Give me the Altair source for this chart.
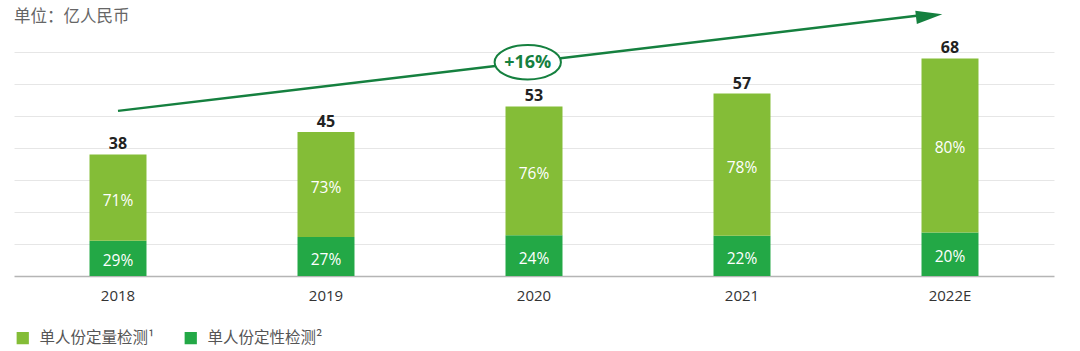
import altair as alt
import pandas as pd

title_text = "单位：亿人民币"
years = ["2018", "2019", "2020", "2021", "2022E"]
totals = [38, 45, 53, 57, 68]
quant_share = [71, 73, 76, 78, 80]
qual_share = [29, 27, 24, 22, 20]
series = ["单人份定量检测¹", "单人份定性检测²"]
colors = ["#84bd37", "#23a846"]
cagr_label = "+16%"

# annotation arrow (x in bar-index units, y in data units)
arrow_x = [0.0, 3.86]
arrow_y = [51.6, 81.5]
head_x = [3.9]
head_y = [81.3]
badge_x = [1.97]
badge_y = [66.8]

rows = []
for i, y in enumerate(years):
    rows.append({"year": y, "series": series[1], "order": 0,
                 "value": totals[i] * qual_share[i] / 100, "label": f"{qual_share[i]}%"})
    rows.append({"year": y, "series": series[0], "order": 1,
                 "value": totals[i] * quant_share[i] / 100, "label": f"{quant_share[i]}%"})
df = pd.DataFrame(rows)
tot_df = pd.DataFrame({"year": years, "total": totals})
arrow_df = pd.DataFrame({"x": arrow_x, "y": arrow_y})
head_df = pd.DataFrame({"x": head_x, "y": head_y})
badge_df = pd.DataFrame({"x": badge_x, "y": badge_y, "t": [cagr_label]})
title_df = pd.DataFrame({"t": [title_text]})

yscale = alt.Scale(domain=[0, 70], nice=False, zero=True)
xscale = alt.Scale(paddingInner=0.726, paddingOuter=0.363)
xaxis = alt.Axis(title=None, labelAngle=0, labelFontSize=15, labelColor="#333333",
                 labelFont="Open Sans", ticks=False, labelPadding=12,
                 domainColor="#b5b5b5", domainWidth=1.5, grid=False)
xband = alt.X("year:N", sort=years, scale=xscale, axis=xaxis)
yaxis = alt.Axis(title=None, labels=False, ticks=False, domain=False, grid=True,
                 values=[10, 20, 30, 40, 50, 60, 70], gridColor="#e6e6e6", gridWidth=1)

bars = alt.Chart(df).mark_bar().encode(
    x=xband,
    y=alt.Y("value:Q", stack="zero", scale=yscale, axis=yaxis),
    color=alt.Color("series:N", scale=alt.Scale(domain=series, range=colors),
                    legend=alt.Legend(title=None, orient="none", direction="horizontal",
                                      legendX=1, legendY=278, symbolType="square",
                                      symbolSize=150, symbolStrokeWidth=0,
                                      labelFontSize=15.5, labelColor="#555555",
                                      labelFont="Noto Sans CJK SC", labelOffset=9,
                                      columnPadding=28, padding=0)),
    order=alt.Order("order:Q"),
)

pct = alt.Chart(df).transform_stack(
    stack="value", groupby=["year"], as_=["v0", "v1"], sort=[alt.SortField("order")]
).transform_calculate(mid="(datum.v0 + datum.v1) / 2").mark_text(
    color="white", fontSize=15.5, font="Open Sans", baseline="middle", dy=3
).encode(
    x=xband,
    y=alt.Y("mid:Q", scale=yscale, axis=yaxis),
    text="label:N",
)

tot = alt.Chart(tot_df).mark_text(
    fontSize=16, fontWeight="bold", font="Open Sans", color="#222222", baseline="bottom", dy=-2
).encode(
    x=xband,
    y=alt.Y("total:Q", scale=yscale, axis=yaxis),
    text="total:Q",
)

xq = alt.Scale(domain=[-0.5, 4.5], nice=False, zero=False)
arrow_color = "#15803f"
line = alt.Chart(arrow_df).mark_line(color=arrow_color, strokeWidth=2.5).encode(
    x=alt.X("x:Q", scale=xq, axis=None),
    y=alt.Y("y:Q", scale=yscale, axis=yaxis),
)
head = alt.Chart(head_df).mark_point(
    shape="M-1,-0.5L1,0L-1,0.5Z", size=700, filled=True, color=arrow_color,
    opacity=1, angle=353.2
).encode(
    x=alt.X("x:Q", scale=xq, axis=None),
    y=alt.Y("y:Q", scale=yscale, axis=yaxis),
)
badge = alt.Chart(badge_df).mark_point(
    shape="M-1,0A1,0.52,0,1,1,1,0A1,0.52,0,1,1,-1,0Z", size=4400, filled=False,
    fill="white", fillOpacity=1, stroke=arrow_color, strokeWidth=2, opacity=1
).encode(
    x=alt.X("x:Q", scale=xq, axis=None),
    y=alt.Y("y:Q", scale=yscale, axis=yaxis),
)
badge_text = alt.Chart(badge_df).mark_text(
    fontSize=18, fontWeight="bold", font="Open Sans", color=arrow_color, baseline="middle", dy=1
).encode(
    x=alt.X("x:Q", scale=xq, axis=None),
    y=alt.Y("y:Q", scale=yscale, axis=yaxis),
    text="t:N",
)
title_mark = alt.Chart(title_df).mark_text(
    fontSize=16.5, font="Noto Sans CJK SC", color="#666666", align="left", baseline="middle"
).encode(
    x=alt.value(0), y=alt.value(-35), text="t:N"
)

chart = alt.layer(
    alt.layer(bars, pct, tot),
    alt.layer(line, head, badge, badge_text, title_mark),
).resolve_scale(
    x="independent"
).properties(
    width=1040, height=224,
    background="white",
    autosize=alt.AutoSizeParams(type="none"),
    padding={"left": 14, "top": 52, "right": 26, "bottom": 75},
).configure_view(stroke=None)

chart.save("out.html", embed_options={"renderer": "svg", "actions": False})
